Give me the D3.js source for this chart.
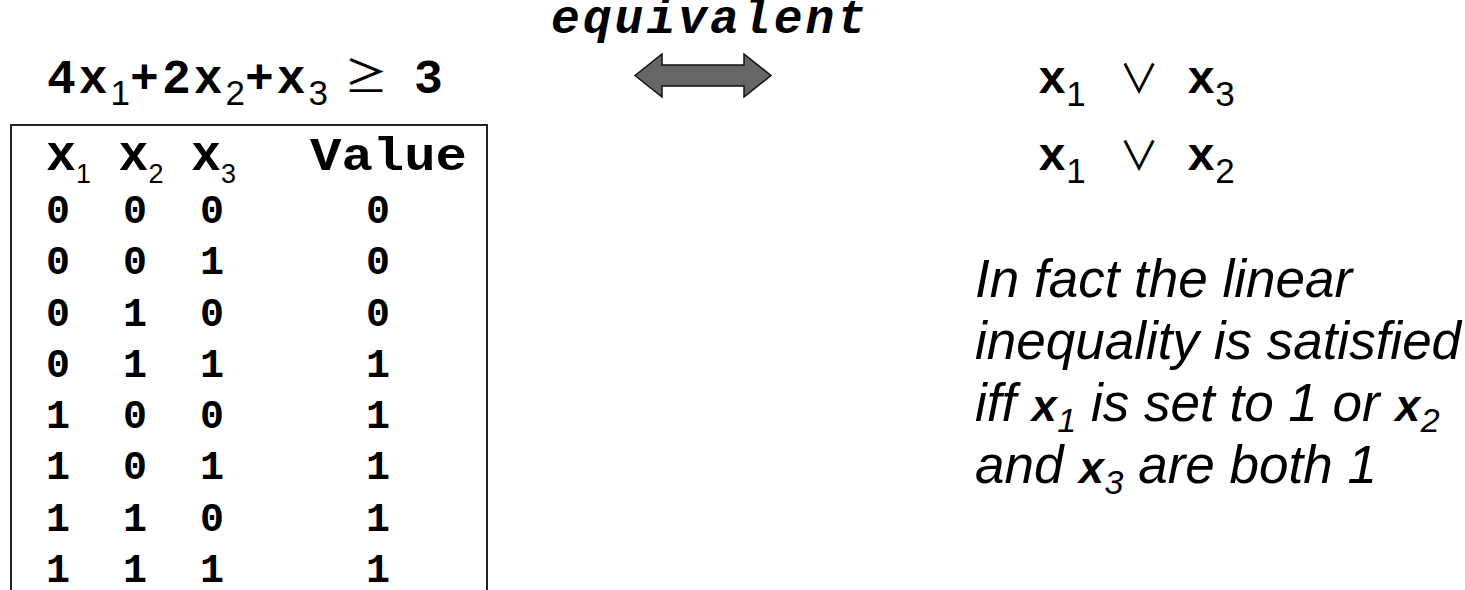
<!DOCTYPE html>
<html>
<head>
<meta charset="utf-8">
<script src="https://cdn.jsdelivr.net/npm/d3@7"></script>
<style>
  html, body { margin: 0; padding: 0; background: #fff; }
  svg { display: block; }
</style>
</head>
<body>
<svg id="chart" width="1465" height="590"></svg>
<script>
// ---- data ----
const columns = ["x1", "x2", "x3"];
const colSubs = ["1", "2", "3"];
const x1Vals = [0, 0, 0, 0, 1, 1, 1, 1];
const x2Vals = [0, 0, 1, 1, 0, 0, 1, 1];
const x3Vals = [0, 1, 0, 1, 0, 1, 0, 1];
const values = [0, 0, 0, 1, 1, 1, 1, 1];
const valueHeader = "Value";
const arrowLabel = "equivalent";
const titleParts = [{s: "4x"}, {sub: "1"}, {s: "+2x"}, {sub: "2"}, {s: "+x"}, {sub: "3"}];
const clauses = [["1", "3"], ["1", "2"]];
const paragraph = [
  [{t: "In fact the linear"}],
  [{t: "inequality is satisfied"}],
  [{t: "iff "}, {x: "1"}, {t: " is set to 1 or "}, {x: "2"}],
  [{t: "and "}, {x: "3"}, {t: " are both 1"}]
];

const MONO = "'Liberation Mono', 'Courier New', monospace";
const SANS = "'Liberation Sans', Arial, sans-serif";
const SYM = "'Noto Sans CJK JP', 'DejaVu Sans', sans-serif";
const svg = d3.select("#chart");

// helper: rich text with subscripts, tracking baseline shift
function rich(t, parts) {
  let shift = 0;
  parts.forEach(p => {
    const want = p.shift || 0;
    const ts = t.append("tspan").attr("dy", want - shift).text(p.text);
    shift = want;
    if (p.family) ts.attr("font-family", p.family);
    if (p.weight) ts.attr("font-weight", p.weight);
    if (p.style) ts.attr("font-style", p.style);
    if (p.size) ts.attr("font-size", p.size);
    if (p.ls !== undefined) ts.attr("letter-spacing", p.ls);
  });
}

// ---- title inequality ----
const title = svg.append("text").attr("x", 47).attr("y", 93)
  .attr("font-family", MONO).attr("font-weight", "bold").attr("font-size", 48)
  .attr("letter-spacing", 3).attr("fill", "#000");
rich(title, titleParts.map(p => p.s
  ? {text: p.s}
  : {text: p.sub, family: SANS, weight: "normal", size: 35, shift: 12, ls: 0}));
svg.append("text").attr("x", 366).attr("y", 93).attr("text-anchor", "middle")
  .attr("font-family", SYM).attr("font-weight", "normal")
  .attr("font-size", 44).text("≥");
svg.append("text").attr("x", 414).attr("y", 93)
  .attr("font-family", MONO).attr("font-weight", "bold").attr("font-size", 48).text("3");

// ---- table box ----
svg.append("rect").attr("x", 11).attr("y", 125).attr("width", 476).attr("height", 520)
  .attr("fill", "none").attr("stroke", "#222").attr("stroke-width", 2);

// header
const headX = d3.scaleLinear().domain([0, 2]).range([46, 191]);
columns.forEach((c, i) => {
  const t = svg.append("text").attr("x", headX(i)).attr("y", 170)
    .attr("font-family", MONO).attr("font-weight", "bold").attr("font-size", 50);
  rich(t, [{text: "x"}, {text: colSubs[i], family: SANS, weight: "normal", size: 27, shift: 13}]);
});
svg.append("text").attr("x", 310).attr("y", 170)
  .attr("font-family", MONO).attr("font-weight", "bold").attr("font-size", 47)
  .attr("textLength", 157).attr("lengthAdjust", "spacingAndGlyphs").text(valueHeader);

// rows
const rowY = d3.scaleLinear().domain([0, 7]).range([223, 582]);
const colX = d3.scaleLinear().domain([0, 2]).range([58, 212]);
const valX = 378;
const rows = values.map((v, i) => ({cells: [x1Vals[i], x2Vals[i], x3Vals[i]], v, i}));
const rowG = svg.selectAll("g.row").data(rows).join("g").attr("class", "row")
  .attr("font-family", MONO).attr("font-weight", "bold").attr("font-size", 40);
rowG.selectAll("text.cell").data(d => d.cells.map((c, j) => ({c, j, i: d.i}))).join("text")
  .attr("class", "cell").attr("text-anchor", "middle")
  .attr("x", d => colX(d.j)).attr("y", d => rowY(d.i)).text(d => d.c);
rowG.append("text").attr("text-anchor", "middle").attr("x", valX)
  .attr("y", d => rowY(d.i)).text(d => d.v);

// ---- equivalent arrow ----
svg.append("text").attr("x", 551).attr("y", 33)
  .attr("font-family", MONO).attr("font-weight", "bold").attr("font-style", "italic")
  .attr("font-size", 48).attr("letter-spacing", 3).text(arrowLabel);
const ax = d3.scaleLinear().domain([0, 1]).range([635, 771]);
const cy = 75.5, headH = 21.5, shaftH = 10.5, headLen = 27;
const arrowPts = [
  [ax(0), cy], [ax(0) + headLen, cy - headH], [ax(0) + headLen, cy - shaftH],
  [ax(1) - headLen, cy - shaftH], [ax(1) - headLen, cy - headH], [ax(1), cy],
  [ax(1) - headLen, cy + headH], [ax(1) - headLen, cy + shaftH],
  [ax(0) + headLen, cy + shaftH], [ax(0) + headLen, cy + headH]
];
svg.append("path").attr("d", d3.line()(arrowPts) + "Z")
  .attr("fill", "#666").attr("stroke", "#111").attr("stroke-width", 1.5)
  .attr("stroke-linejoin", "miter");

// ---- clauses ----
const clauseY = d3.scaleLinear().domain([0, 1]).range([93, 170]);
clauses.forEach((cl, i) => {
  const y = clauseY(i);
  [1038, 1187].forEach((x, k) => {
    const t = svg.append("text").attr("x", x).attr("y", y)
      .attr("font-family", MONO).attr("font-weight", "bold").attr("font-size", 47);
    rich(t, [{text: "x"}, {text: cl[k], family: SANS, weight: "normal", size: 35, shift: 13}]);
  });
  svg.append("text").attr("x", 1139).attr("y", y).attr("text-anchor", "middle")
    .attr("font-family", SYM).attr("font-weight", "normal").attr("font-size", 40).text("∨");
});

// ---- paragraph ----
const paraY = d3.scaleLinear().domain([0, 3]).range([297, 483]);
paragraph.forEach((line, i) => {
  const t = svg.append("text").attr("x", 975).attr("y", paraY(i))
    .attr("font-family", SANS).attr("font-style", "italic").attr("font-size", 53);
  const parts = [];
  line.forEach(p => {
    if (p.t !== undefined) parts.push({text: p.t});
    else {
      parts.push({text: "x", family: MONO, weight: "bold", size: 44});
      parts.push({text: p.x, size: 34, shift: 11});
    }
  });
  rich(t, parts);
});
</script>
</body>
</html>
